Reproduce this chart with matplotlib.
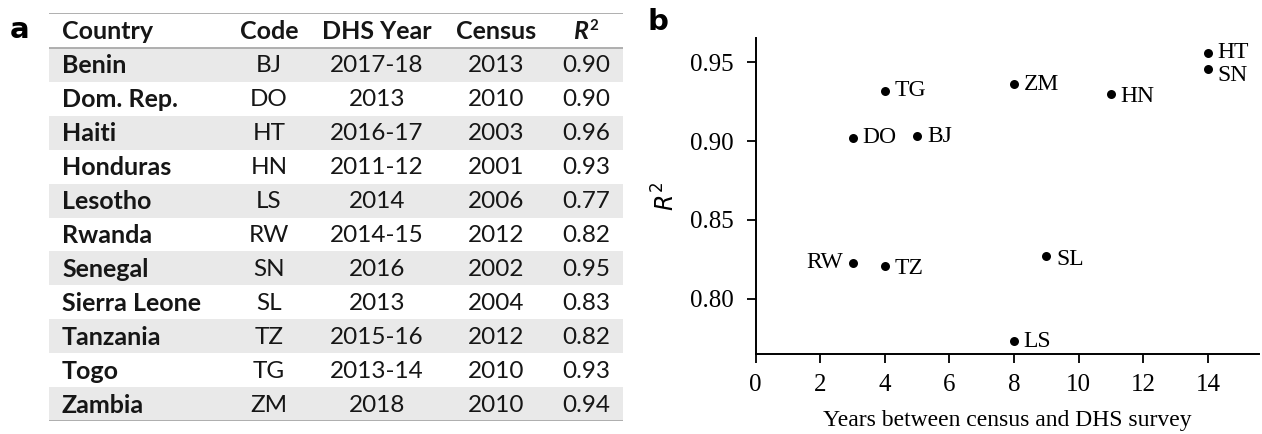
import matplotlib
matplotlib.use("Agg")
import matplotlib.pyplot as plt
from matplotlib.patches import Rectangle

# table contents
countries = ["Benin", "Dom. Rep.", "Haiti", "Honduras", "Lesotho", "Rwanda",
             "Senegal", "Sierra Leone", "Tanzania", "Togo", "Zambia"]
codes = ["BJ", "DO", "HT", "HN", "LS", "RW", "SN", "SL", "TZ", "TG", "ZM"]
dhs_years = ["2017-18", "2013", "2016-17", "2011-12", "2014", "2014-15",
             "2016", "2013", "2015-16", "2013-14", "2018"]
census_years = ["2013", "2010", "2003", "2001", "2006", "2012",
                "2002", "2004", "2012", "2010", "2010"]
r2_table = ["0.90", "0.90", "0.96", "0.93", "0.77", "0.82",
            "0.95", "0.83", "0.82", "0.93", "0.94"]

# scatter: years between census and survey vs R^2
years_gap = [5, 3, 14, 11, 8, 3, 14, 9, 4, 4, 8]
r2_values = [0.903, 0.902, 0.956, 0.930, 0.773, 0.823,
             0.946, 0.827, 0.821, 0.932, 0.936]

W, H = 1262, 434
fig = plt.figure(figsize=(W / 100, H / 100), dpi=100)

# ---- panel a: table drawn in pixel coordinates ----
tx0, tx1, ty0, ty1 = 49, 623, 13, 421
axt = fig.add_axes([tx0 / W, 1 - ty1 / H, (tx1 - tx0) / W, (ty1 - ty0) / H])
axt.set_xlim(tx0, tx1)
axt.set_ylim(ty1, ty0)
axt.axis("off")

header_h = 35
row_h = (ty1 - ty0 - header_h) / len(countries)
tfont = "Lato"
tsize = 17.5
txt_col = "#161616"
col_x = [62, 269, 377, 496, 586]

for i, (c, code, dy, cy, r) in enumerate(zip(countries, codes, dhs_years, census_years, r2_table)):
    top = ty0 + header_h + i * row_h
    if i % 2 == 0:
        axt.add_patch(Rectangle((tx0, top), tx1 - tx0, row_h, color="#e9e9e9", lw=0))
    yc = top + row_h / 2 + 1
    axt.text(col_x[0], yc, c, ha="left", va="center", fontsize=tsize + 0.5,
             fontweight="bold", family=tfont, color=txt_col)
    for x, s in zip(col_x[1:], [code, dy, cy, r]):
        axt.text(x, yc, s, ha="center", va="center", fontsize=tsize,
                 family=tfont, color=txt_col)

hy = ty0 + header_h / 2 + 1
for x, s, ha in zip(col_x[:4], ["Country", "Code", "DHS Year", "Census"],
                    ["left", "center", "center", "center"]):
    axt.text(x, hy, s, ha=ha, va="center", fontsize=tsize + 0.5, fontweight="bold",
             family=tfont, color=txt_col)
axt.text(col_x[4] + 2, hy, "R", ha="right", va="center", fontsize=tsize + 0.5,
         fontweight="bold", fontstyle="italic", family=tfont, color=txt_col)
axt.text(col_x[4] + 3, hy - 6, "2", ha="left", va="center", fontsize=tsize * 0.62,
         fontweight="bold", family=tfont, color=txt_col)

for y in [ty0, ty0 + header_h, ty1]:
    axt.plot([tx0, tx1], [y, y], color="#a9a9a9", lw=1.3, solid_capstyle="butt")

fig.text(10 / W, 1 - 30 / H, "a", fontsize=21, fontweight="bold",
         family="DejaVu Sans", va="center", ha="left")

# ---- panel b: scatter ----
ax = fig.add_axes([755.6 / W, 1 - 354 / H, (1259 - 755.6) / W, (354 - 38.3) / H])
ax.scatter(years_gap, r2_values, s=42, color="black", zorder=3, linewidths=0)
ax.set_xlim(0, 15.58)
ax.set_ylim(0.765, 0.9652)
ax.set_xticks(range(0, 15, 2))
ax.set_yticks([0.80, 0.85, 0.90, 0.95])
ax.set_yticklabels(["0.80", "0.85", "0.90", "0.95"])

serif = "Liberation Serif"
for lab in ax.get_xticklabels() + ax.get_yticklabels():
    lab.set_family(serif)
    lab.set_fontsize(18)
ax.tick_params(direction="out", length=6.5, width=1.3)
ax.tick_params(axis="y", pad=9)
ax.tick_params(axis="x", pad=8)
for side in ["top", "right"]:
    ax.spines[side].set_visible(False)
for side in ["left", "bottom"]:
    ax.spines[side].set_linewidth(1.4)

# label placement offsets in points (dx, dy)
offsets = {"RW": (-7, 0), "SN": (7, -5), "HN": (7, -2), "SL": (7, -2),
           "TZ": (7, -2)}
for x, y, code in zip(years_gap, r2_values, codes):
    dx, dy = offsets.get(code, (7, 0))
    ax.annotate(code, (x, y), xytext=(dx, dy), textcoords="offset points",
                ha="right" if dx < 0 else "left", va="center",
                fontsize=17, family=serif)

ax.set_xlabel("Years between census and DHS survey", fontsize=17,
              family=serif, labelpad=10)
ax.set_ylabel("$R^2$", fontsize=17, labelpad=8)

fig.text(648 / W, 1 - 22 / H, "b", fontsize=21, fontweight="bold",
         family="DejaVu Sans", va="center", ha="left")

fig.savefig("out.png", dpi=100)
